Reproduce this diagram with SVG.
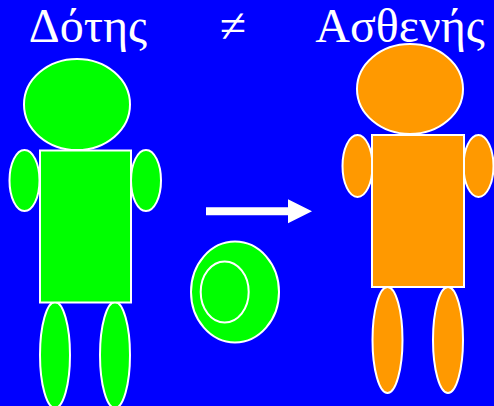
<svg xmlns="http://www.w3.org/2000/svg" width="494" height="406" viewBox="0 0 494 406">
  <style>
    .title { font-family: "Liberation Serif", "DejaVu Serif", serif; font-size: 48px; fill: #ffffff; text-anchor: middle; }
    .part { stroke: #ffffff; stroke-width: 2; }
    .green { fill: #00ff00; }
    .orange { fill: #ff9900; }
  </style>
  <rect x="0" y="0" width="494" height="406" fill="#0000ff"/>

  <g id="labels">
    <text class="title" x="88" y="42">Δότης</text>
    <text class="title" x="233" y="42">≠</text>
    <text class="title" x="400" y="42">Ασθενής</text>
  </g>

  <!-- donor figure -->
  <g id="donor" class="green">
    <ellipse class="part" cx="77" cy="104.5" rx="53" ry="45.5"/>
    <ellipse class="part" cx="24.5" cy="180.5" rx="15" ry="30.5"/>
    <ellipse class="part" cx="146" cy="180.5" rx="15" ry="30.5"/>
    <ellipse class="part" cx="55" cy="355" ry="53" rx="15"/>
    <ellipse class="part" cx="115" cy="355" ry="53" rx="15"/>
    <rect class="part" x="40" y="150.5" width="91" height="152"/>
  </g>

  <!-- patient figure -->
  <g id="patient" class="orange">
    <ellipse class="part" cx="410" cy="89" rx="53" ry="45"/>
    <ellipse class="part" cx="357.5" cy="166" rx="15" ry="31"/>
    <ellipse class="part" cx="478.5" cy="166" rx="15" ry="31"/>
    <ellipse class="part" cx="387.5" cy="340" rx="15" ry="53"/>
    <ellipse class="part" cx="448" cy="340" rx="15" ry="53"/>
    <rect class="part" x="372" y="135" width="92" height="152"/>
  </g>

  <!-- transferred cell -->
  <g id="cell" class="green">
    <ellipse class="part" cx="235" cy="292" rx="44" ry="50.5"/>
    <ellipse class="part" cx="224.7" cy="292" rx="24" ry="30.5"/>
  </g>

  <g id="connectors">
    <polygon points="206,207.3 288,207.3 288,199.3 312,211.3 288,223.3 288,215.3 206,215.3" fill="#ffffff"/>
  </g>
</svg>
